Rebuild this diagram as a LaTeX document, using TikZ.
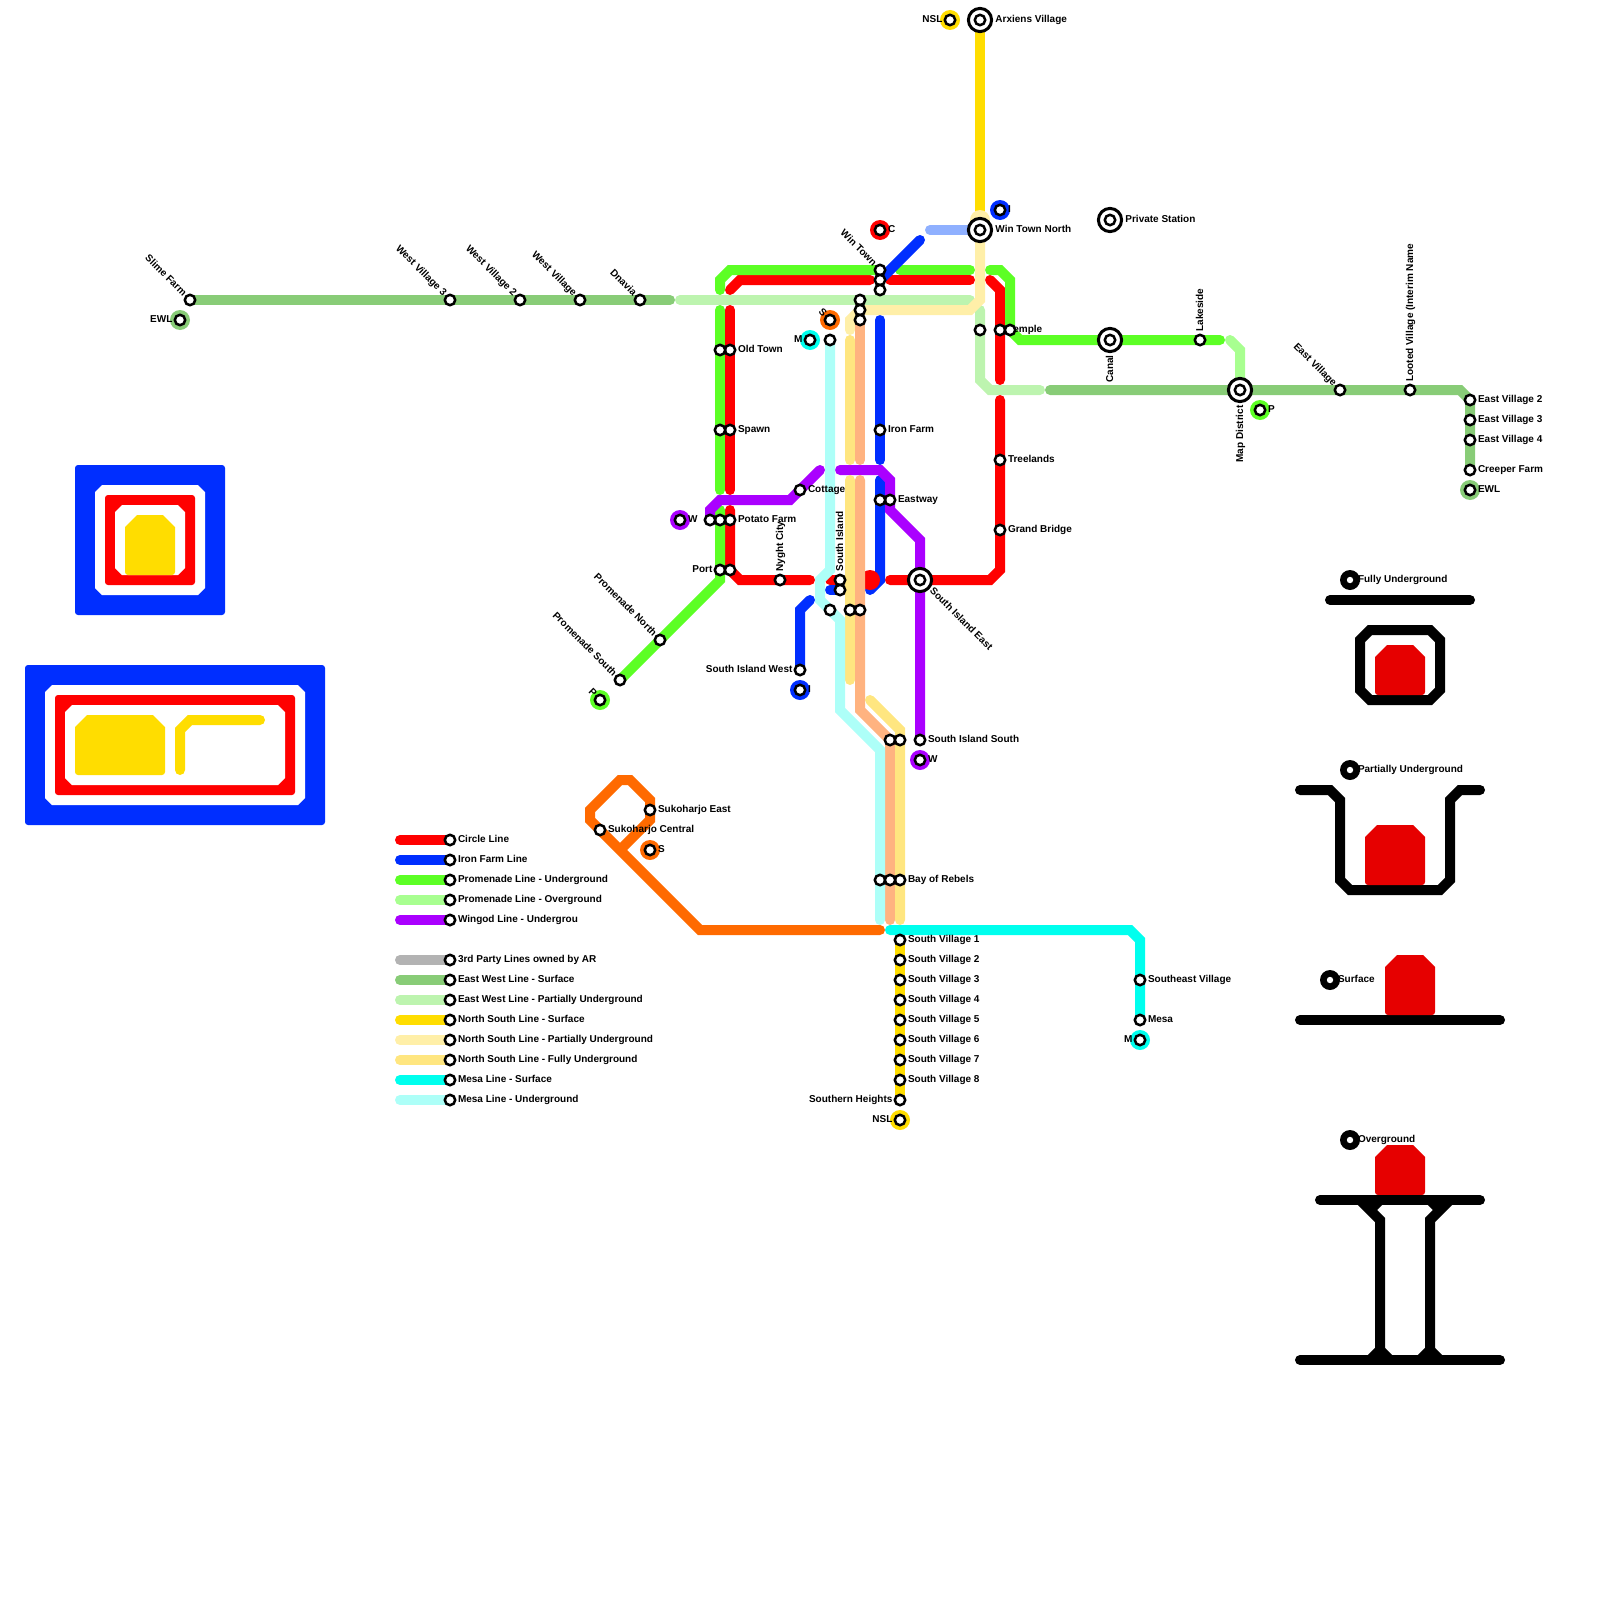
\documentclass[tikz,border=0pt]{standalone}
\usepackage{fontspec}
\setmainfont{Liberation Sans}
\usetikzlibrary{positioning, calc}
\definecolor{circlered}{HTML}{FF0000}
\definecolor{ironblue}{HTML}{002EFF}
\definecolor{ironpale}{HTML}{8FB0FF}
\definecolor{promgreen}{HTML}{5CFF25}
\definecolor{promlight}{HTML}{A8FF90}
\definecolor{wingpurple}{HTML}{AA00FF}
\definecolor{thirdgrey}{HTML}{B3B3B3}
\definecolor{ewgreen}{HTML}{88CC77}
\definecolor{ewlight}{HTML}{BDF4AF}
\definecolor{nsyellow}{HTML}{FFDD00}
\definecolor{nscream}{HTML}{FFEFA8}
\definecolor{nsfull}{HTML}{FFE680}
\definecolor{mesacyan}{HTML}{00FFEE}
\definecolor{mesapale}{HTML}{ADFFF8}
\definecolor{sukoorange}{HTML}{FF6A00}
\definecolor{sukopeach}{HTML}{FFB380}
\definecolor{trainred}{HTML}{E60000}
\pgfdeclarelayer{lines}
\pgfsetlayers{lines,main}
\tikzset{
  metro/.style={line width=5pt, line cap=round},
  circleln/.style={metro, draw=circlered},
  ironln/.style={metro, draw=ironblue},
  ironpl/.style={metro, draw=ironpale},
  promun/.style={metro, draw=promgreen},
  promov/.style={metro, draw=promlight},
  wingln/.style={metro, draw=wingpurple},
  thirdln/.style={metro, draw=thirdgrey},
  ewsurf/.style={metro, draw=ewgreen},
  ewpart/.style={metro, draw=ewlight},
  nssurf/.style={metro, draw=nsyellow},
  nspart/.style={metro, draw=nscream},
  nsund/.style={metro, draw=nsfull},
  mesasurf/.style={metro, draw=mesacyan},
  mesaund/.style={metro, draw=mesapale},
  sukoln/.style={metro, draw=sukoorange},
  sukound/.style={metro, draw=sukopeach},
  keyln/.style={metro, draw=black},
  stn/.style={circle, draw=black, fill=white, line width=1.25pt, minimum size=5.2pt, inner sep=0pt},
  bigstn/.style={circle, draw=black, fill=white, line width=1.5pt, minimum size=11.6pt, inner sep=0pt},
  bub/.style={circle, fill=#1, minimum size=10pt, inner sep=0pt},
  txt/.style={font=\fontsize{5}{6}\selectfont\bfseries, inner sep=0pt},
  lblr/.style={txt, anchor=base west, xshift=3.8pt, yshift=-1.3pt},
  lbll/.style={txt, anchor=base east, xshift=-3.6pt, yshift=-1.3pt},
  lblul/.style={txt, xshift=-3.5pt, yshift=1.5pt, rotate=-45, anchor=base east},
  lblup/.style={txt, xshift=1.6pt, yshift=4pt, rotate=90, anchor=base west},
  lblbig/.style={txt, anchor=base west, xshift=7.5pt, yshift=-1.3pt},
  lbldown/.style={txt, xshift=1.6pt, yshift=-7.5pt, rotate=90, anchor=base east},
  lblse/.style={txt, xshift=4.5pt, yshift=-5.5pt, rotate=-45, anchor=base west}
}
\newcommand{\wagon}[4]{\fill[trainred] (#1,#2+12) -- (#1+12,#2) -- (#3-12,#2) -- (#3,#2+12) [rounded corners=1.5pt] -- (#3,#4) -- (#1,#4) [sharp corners] -- cycle;}
\newcommand{\gate}[5]{\fill[#5] (#1,#2+7) -- (#1+7,#2) -- (#3-7,#2) -- (#3,#2+7) -- (#3,#4-7) -- (#3-7,#4) -- (#1+7,#4) -- (#1,#4-7) -- cycle;}
\begin{document}
\begin{tikzpicture}[x=0.5pt, y=-0.5pt]
  \useasboundingbox (0,0) rectangle (1600,1600);

  \fill[ironblue, rounded corners=1.5pt] (75,465) rectangle (225,615);
  \gate{95}{485}{205}{595}{white}
  \fill[circlered, rounded corners=1.5pt] (105,495) rectangle (195,585);
  \gate{115}{505}{185}{575}{white}
  \fill[nsyellow] (125,527) -- (137,515) -- (163,515) -- (175,527) [rounded corners=1.5pt] -- (175,575) -- (125,575) [sharp corners] -- cycle;

  \fill[ironblue, rounded corners=1.5pt] (25,665) rectangle (325,825);
  \gate{45}{685}{305}{805}{white}
  \fill[circlered, rounded corners=1.5pt] (55,695) rectangle (295,795);
  \gate{65}{705}{285}{785}{white}
  \fill[nsyellow] (75,727) -- (87,715) -- (153,715) -- (165,727) [rounded corners=1.5pt] -- (165,775) -- (75,775) [sharp corners] -- cycle;
  \draw[nssurf] (180,770) -- ++(0,-40) -- ++(10,-10) -- (260,720);

  \foreach \id/\x/\y/\col/\side/\name in {
    ewlw/180/320/ewgreen/lbll/EWL, ewle/1470/490/ewgreen/lblr/EWL,
    nsln/950/20/nsyellow/lbll/NSL, nsls/900/1120/nsyellow/lbll/NSL,
    bubc/880/230/circlered/lblr/C, bubin/1000/210/ironblue/lblr/I, bubis/800/690/ironblue/lblr/I,
    bubww/680/520/wingpurple/lblr/W, bubws/920/760/wingpurple/lblr/W,
    bubpe/1260/410/promgreen/lblr/P, bubpw/600/700/promgreen/lblul/P,
    bubsn/830/320/sukoorange/lblul/S, bubss/650/850/sukoorange/lblr/S,
    bubmn/810/340/mesacyan/lbll/M, bubms/1140/1040/mesacyan/lbll/M} {
    \node[bub=\col] (\id-b) at (\x,\y) {};
    \node[\side] (\id-t) at (\x,\y) {\name};
    \node[stn] (\id) at (\x,\y) {};
  }

  \foreach \id/\x/\y/\name in {
    oldtown/730/350/Old Town, spawn/730/430/Spawn, potato/730/520/Potato Farm,
    ironfarm/880/430/Iron Farm, eastway/890/500/Eastway, cottage/800/490/Cottage,
    temple/1000/330/Temple, treelands/1000/460/Treelands, grandbridge/1000/530/Grand Bridge,
    sisouth/920/740/South Island South, bayrebels/900/880/Bay of Rebels,
    sukeast/650/810/Sukoharjo East, sukcentral/600/830/Sukoharjo Central,
    sv1/900/940/South Village 1, sv2/900/960/South Village 2, sv3/900/980/South Village 3,
    sv4/900/1000/South Village 4, sv5/900/1020/South Village 5, sv6/900/1040/South Village 6,
    sv7/900/1060/South Village 7, sv8/900/1080/South Village 8,
    southeast/1140/980/Southeast Village, mesa/1140/1020/Mesa,
    ev2/1470/400/East Village 2, ev3/1470/420/East Village 3, ev4/1470/440/East Village 4,
    creeper/1470/470/Creeper Farm} {
    \node[lblr] (\id-t) at (\x,\y) {\name};
    \node[stn] (\id) at (\x,\y) {};
  }

  \foreach \id/\x/\y/\name in {
    port/720/570/Port, siwest/800/670/South Island West, southheights/900/1100/Southern Heights} {
    \node[lbll] (\id-t) at (\x,\y) {\name};
    \node[stn] (\id) at (\x,\y) {};
  }

  \foreach \id/\x/\y/\name in {
    slimefarm/190/300/Slime Farm, westthree/450/300/West Village 3, westtwo/520/300/West Village 2,
    westone/580/300/West Village, dnavia/640/300/Dnavia, wintown/880/270/Win Town,
    promnorth/660/640/Promenade North, promsouth/620/680/Promenade South, eastvillage/1340/390/East Village} {
    \node[lblul] (\id-t) at (\x,\y) {\name};
    \node[stn] (\id) at (\x,\y) {};
  }

  \foreach \id/\x/\y/\name in {
    nyght/780/580/Nyght City, southisland/840/580/South Island, lakeside/1200/340/Lakeside,
    looted/1410/390/Looted Village (Interim Name} {
    \node[lblup] (\id-t) at (\x,\y) {\name};
    \node[stn] (\id) at (\x,\y) {};
  }

  \foreach \id/\x/\y in {
    oldtownw/720/350, spawnw/720/430, potatow/720/520, potatox/710/520, portr/730/570,
    wintownb/880/280, wintownc/880/290, promx/860/300, promy/860/310, promz/860/320,
    mesatop/830/340, eastwayw/880/500, templew/980/330, templee/1010/330,
    southislandb/840/590, simesa/830/610, sinsa/850/610, sinsb/860/610,
    sisw/890/740, sisx/900/740, baya/880/880, bayb/890/880} {
    \node[stn] (\id) at (\x,\y) {};
  }

  \foreach \id/\x/\y/\side/\name in {
    arxiens/980/20/lblbig/Arxiens Village, wtnorth/980/230/lblbig/Win Town North,
    private/1110/220/lblbig/Private Station, canal/1110/340/lbldown/Canal,
    mapdistrict/1240/390/lbldown/Map District, sieast/920/580/lblse/South Island East} {
    \node[\side] (\id-t) at (\x,\y) {\name};
    \node[bigstn] (\id-r) at (\x,\y) {};
    \node[stn] (\id) at (\x,\y) {};
  }

  \foreach \id/\x/\y/\name in {
    keyfull/1350/580/Fully Underground, keypart/1350/770/Partially Underground,
    keysurf/1330/980/Surface, keyover/1350/1140/Overground} {
    \node[bub=black] (\id-b) at (\x,\y) {};
    \node[circle, fill=white, minimum size=3.2pt, inner sep=0pt] (\id) at (\x,\y) {};
    \node[lblr] (\id-t) at (\x,\y) {\name};
  }

  \foreach \y/\ln/\name in {
    840/circleln/Circle Line, 860/ironln/Iron Farm Line, 880/promun/Promenade Line - Underground,
    900/promov/Promenade Line - Overground, 920/wingln/Wingod Line - Undergrou,
    960/thirdln/3rd Party Lines owned by AR, 980/ewsurf/East West Line - Surface,
    1000/ewpart/East West Line - Partially Underground, 1020/nssurf/North South Line - Surface,
    1040/nspart/North South Line - Partially Underground, 1060/nsund/North South Line - Fully Underground,
    1080/mesasurf/Mesa Line - Surface, 1100/mesaund/Mesa Line - Underground} {
    \coordinate (legend\y) at (400,\y);
    \node[lblr] (key\y-t) at (450,\y) {\name};
    \node[stn] (key\y) at (450,\y) {};
    \begin{pgfonlayer}{lines}
      \draw[\ln] (legend\y) -- (key\y.center);
    \end{pgfonlayer}
  }

  \foreach \id/\x/\y in {
    ewa/670/300, ewb/680/300, ewc/970/300, ewd/980/310, ewe/1040/390, ewf/1050/390,
    gra/720/310, grb/720/490, grc/720/290, grd/900/270, gre/970/270, grf/990/270, grg/1220/340, grh/720/510,
    prov/1230/340,
    rea/730/290, reb/870/280, rec/890/280, red/970/280, ree/990/280, ref/1000/380, reg/1000/400,
    reh/890/580, rei/730/310, rej/730/490, rek/730/510, rel/810/580, rem/830/580,
    ira/920/240, irb/880/320, irc/880/460, ird/880/480, ire/830/590, irf/810/600,
    ipa/930/230,
    wia/820/470, wib/840/470,
    pea/860/460, peb/860/480, pec/890/920,
    fua/850/340, fub/850/460, fuc/850/480, fud/850/680, fue/870/700, fuf/900/920,
    cra/980/220, crb/850/330,
    mea/880/920, mec/890/930, ora/880/930} {
    \coordinate (\id) at (\x,\y);
  }

  \begin{pgfonlayer}{lines}
    \draw[ewsurf] (slimefarm.center) -- (ewa);
    \draw[ewpart] (ewb) -- (ewc);
    \draw[ewpart] (ewd) -- ++(0,70) -- ++(10,10) -- (ewe);
    \draw[ewsurf] (ewf) -- ++(410,0) -- ++(10,10) -- (creeper.center);

    \draw[circleln] (rea) -- ++(10,-10) -- (reb);
    \draw[circleln] (rec) -- (red);
    \draw[circleln] (ree) -- ++(10,10) -- (ref);
    \draw[circleln] (reg) -- (1000,570) -- ++(-10,10) -- (reh);
    \draw[circleln] (rei) -- (rej);
    \draw[circleln] (rek) -- ++(0,60) -- ++(10,10) -- (rel);
    \draw[circleln] (rem) -- (southisland.center);

    \draw[promun] (gra) -- (grb);
    \draw[promun] (grc) -- ++(0,-10) -- ++(10,-10) -- (wintown.center);
    \draw[promun] (grd) -- (gre);
    \draw[promun] (grf) -- ++(10,0) -- ++(10,10) -- ++(0,50) -- ++(10,10) -- (grg);
    \draw[promun] (grh) -- ++(0,70) -- (promsouth.center);
    \draw[promov] (prov) -- ++(10,10) -- (mapdistrict.center);

    \draw[ironln] (ira) -- (wintownb.center);
    \draw[ironln] (irb) -- (irc);
    \draw[ironln] (ird) -- ++(0,100) -- ++(-10,10);
    \draw[ironln] (ire) -- (southislandb.center);
    \draw[ironln] (irf) -- ++(-10,10) -- (siwest.center);
    \draw[ironpl] (ipa) -- (wtnorth.center);
    \fill[circlered] (870,580) circle[radius=10];

    \draw[wingln] (potatox.center) -- ++(0,-10) -- ++(10,-10) -- ++(70,0) -- (wia);
    \draw[wingln] (wib) -- ++(40,0) -- ++(10,10) -- ++(0,30) -- ++(30,30) -- (sisouth.center);

    \draw[nssurf] (arxiens.center) -- (cra);
    \draw[nssurf] (sv1.center) -- (southheights.center);
    \fill[nscream] (980,220) circle[radius=10];
    \draw[nspart] (cra) -- ++(0,80) -- ++(-10,10) -- ++(-110,0) -- ++(-10,10) -- (crb);

    \draw[sukound] (promz.center) -- (pea);
    \draw[sukound] (peb) -- ++(0,230) -- ++(30,30) -- (pec);
    \draw[nsund] (fua) -- (fub);
    \draw[nsund] (fuc) -- (fud);
    \draw[nsund] (fue) -- ++(30,30) -- (fuf);
    \draw[mesaund] (mesatop.center) -- ++(0,230) -- ++(-10,10) -- ++(0,20) -- ++(20,20) -- ++(0,90) -- ++(40,40) -- (mea);
    \draw[mesasurf] (mec) -- ++(240,0) -- ++(10,10) -- (mesa.center);
    \draw[sukoln] (ora) -- ++(-180,0) -- ++(-110,-110) -- ++(0,-10) -- ++(30,-30) -- ++(10,0) -- ++(20,20) -- ++(0,20) -- ++(-30,30);
  \end{pgfonlayer}

  \draw[keyln] (1330,600) -- (1470,600);
  \draw[keyln] (1370,630) -- (1430,630) -- (1440,640) -- (1440,690) -- (1430,700) -- (1370,700) -- (1360,690) -- (1360,640) -- cycle;
  \wagon{1375}{645}{1425}{695}
  \draw[keyln] (1300,790) -- (1330,790) -- (1340,800) -- (1340,880) -- (1350,890) -- (1440,890) -- (1450,880) -- (1450,800) -- (1460,790) -- (1480,790);
  \wagon{1365}{825}{1425}{885}
  \draw[keyln] (1300,1020) -- (1500,1020);
  \wagon{1385}{955}{1435}{1015}
  \wagon{1375}{1145}{1425}{1195}
  \draw[keyln] (1320,1200) -- (1480,1200);
  \draw[keyln] (1300,1360) -- (1500,1360);
  \draw[keyln, line cap=butt] (1360,1200) -- (1380,1220) -- (1380,1350);
  \draw[keyln, line cap=butt] (1450,1200) -- (1430,1220) -- (1430,1350);
  \draw[keyln, line cap=butt] (1370,1210) -- (1380,1200);
  \draw[keyln, line cap=butt] (1440,1210) -- (1430,1200);
  \draw[keyln, line cap=butt] (1370,1360) -- (1380,1350) -- (1390,1360);
  \draw[keyln, line cap=butt] (1420,1360) -- (1430,1350) -- (1440,1360);
\end{tikzpicture}
\end{document}
